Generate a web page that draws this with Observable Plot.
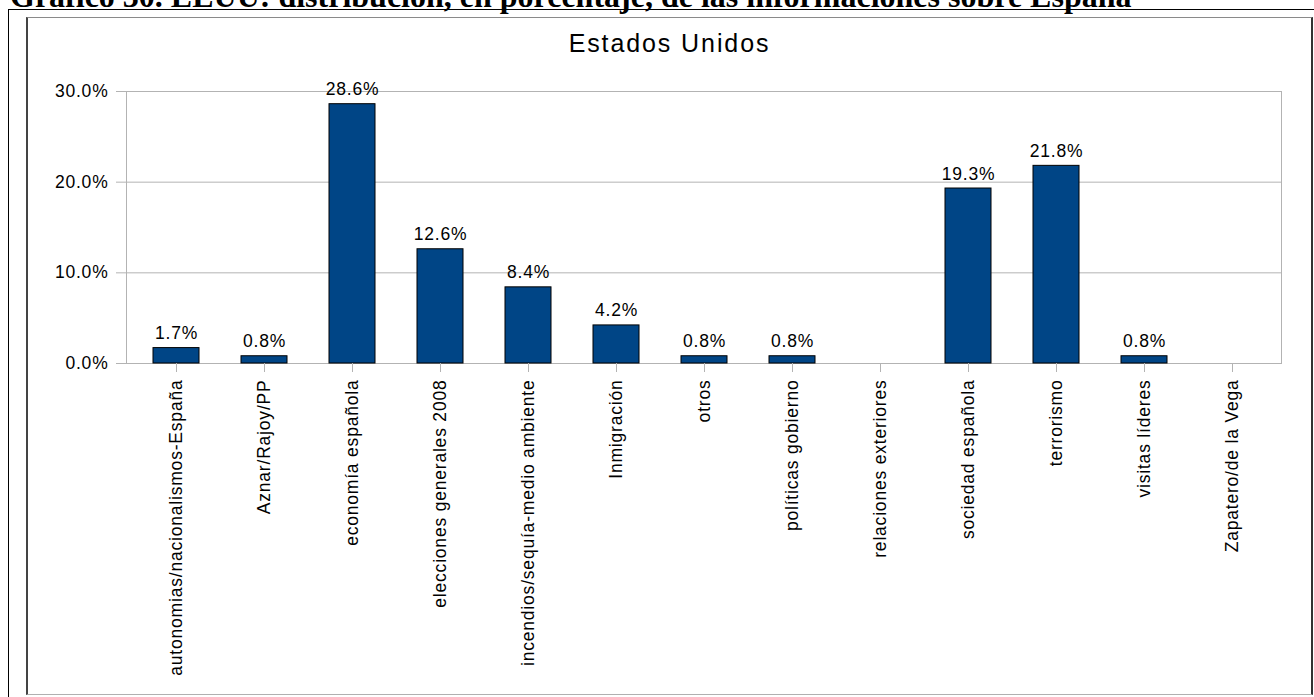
<!DOCTYPE html>
<html>
<head>
<meta charset="utf-8">
<script src="https://cdn.jsdelivr.net/npm/d3@7"></script>
<script src="https://cdn.jsdelivr.net/npm/@observablehq/plot@0.6"></script>
<style>
  html, body { margin: 0; padding: 0; background: #fff; }
  #wrap { position: relative; width: 1314px; height: 697px; overflow: hidden; background: #fff; }
  #wrap svg { position: absolute; left: 0; top: 0; }
  .doc-title { position: absolute; left: 10px; top: -20px; font-family: "Liberation Serif", "Times New Roman", serif; font-weight: bold; font-size: 32px; line-height: 32px; white-space: nowrap; color: #000; }
  .outer-top { position: absolute; left: 8px; top: 9px; width: 1306px; height: 0; border-top: 1px solid #000; }
  .outer-left { position: absolute; left: 8px; top: 9px; width: 0; height: 688px; border-left: 1px solid #000; }
  .inner-box { position: absolute; left: 26px; top: 17px; width: 1283px; height: 676px; border-top: 1px solid #8a8a8a; border-bottom: 1px solid #b0b0b0; border-left: 2px solid #444; border-right: 2px solid #333; box-sizing: content-box; }
  .chart-title { position: absolute; left: 26px; width: 1287px; top: 31px; text-align: center; font-family: "Liberation Sans", Arial, sans-serif; font-size: 25px; line-height: 25px; letter-spacing: 1.9px; color: #000; }
</style>
</head>
<body>
<div id="wrap">
  <div class="doc-title">Gráfico 30. EEUU: distribución, en porcentaje, de las informaciones sobre España</div>
  <div class="outer-top"></div>
  <div class="outer-left"></div>
  <div class="inner-box"></div>
  <div class="chart-title">Estados Unidos</div>
</div>
<script>
const categories = [
  "autonomias/nacionalismos-España",
  "Aznar/Rajoy/PP",
  "economía española",
  "elecciones generales 2008",
  "incendios/sequía-medio ambiente",
  "Inmigración",
  "otros",
  "políticas gobierno",
  "relaciones exteriores",
  "sociedad española",
  "terrorismo",
  "visitas líderes",
  "Zapatero/de la Vega"
];
const values = [1.7, 0.8, 28.6, 12.6, 8.4, 4.2, 0.8, 0.8, 0, 19.3, 21.8, 0.8, 0];
const yTicks = [0, 10, 20, 30];

const data = categories.map((c, i) => ({category: c, value: values[i]}));
const fmt = v => v.toFixed(1) + "%";

const chart = Plot.plot({
  width: 1314,
  height: 697,
  marginLeft: 126,
  marginRight: 33,
  marginTop: 91,
  marginBottom: 334,
  style: {
    fontFamily: "'Liberation Sans', Arial, sans-serif",
    fontSize: "17.5px",
    letterSpacing: "0.8px",
    color: "#000",
    background: "transparent",
    overflow: "visible"
  },
  x: {domain: categories, paddingInner: 0.48, paddingOuter: 0.24, label: null},
  y: {domain: [0, 30], label: null},
  marks: [
    Plot.gridY(yTicks, {stroke: "#b3b3b3", strokeOpacity: 1}),
    Plot.frame({stroke: "#b3b3b3"}),
    Plot.barY(data, {x: "category", y: "value", fill: "#004586", stroke: "#000", strokeWidth: 1}),
    Plot.text(data.filter(d => d.value > 0), {x: "category", y: "value", text: d => fmt(d.value), lineAnchor: "bottom", dy: -9, fill: "#000"}),
    Plot.axisY(yTicks, {tickFormat: fmt, tickSize: 10, tickPadding: 8, stroke: "#b3b3b3", fill: "#000", label: null}),
    Plot.axisX({tickRotate: -90, tickSize: 9, tickPadding: 7, stroke: "#b3b3b3", fill: "#000", label: null})
  ]
});
document.getElementById("wrap").insertBefore(chart, document.querySelector(".outer-top"));
</script>
</body>
</html>
